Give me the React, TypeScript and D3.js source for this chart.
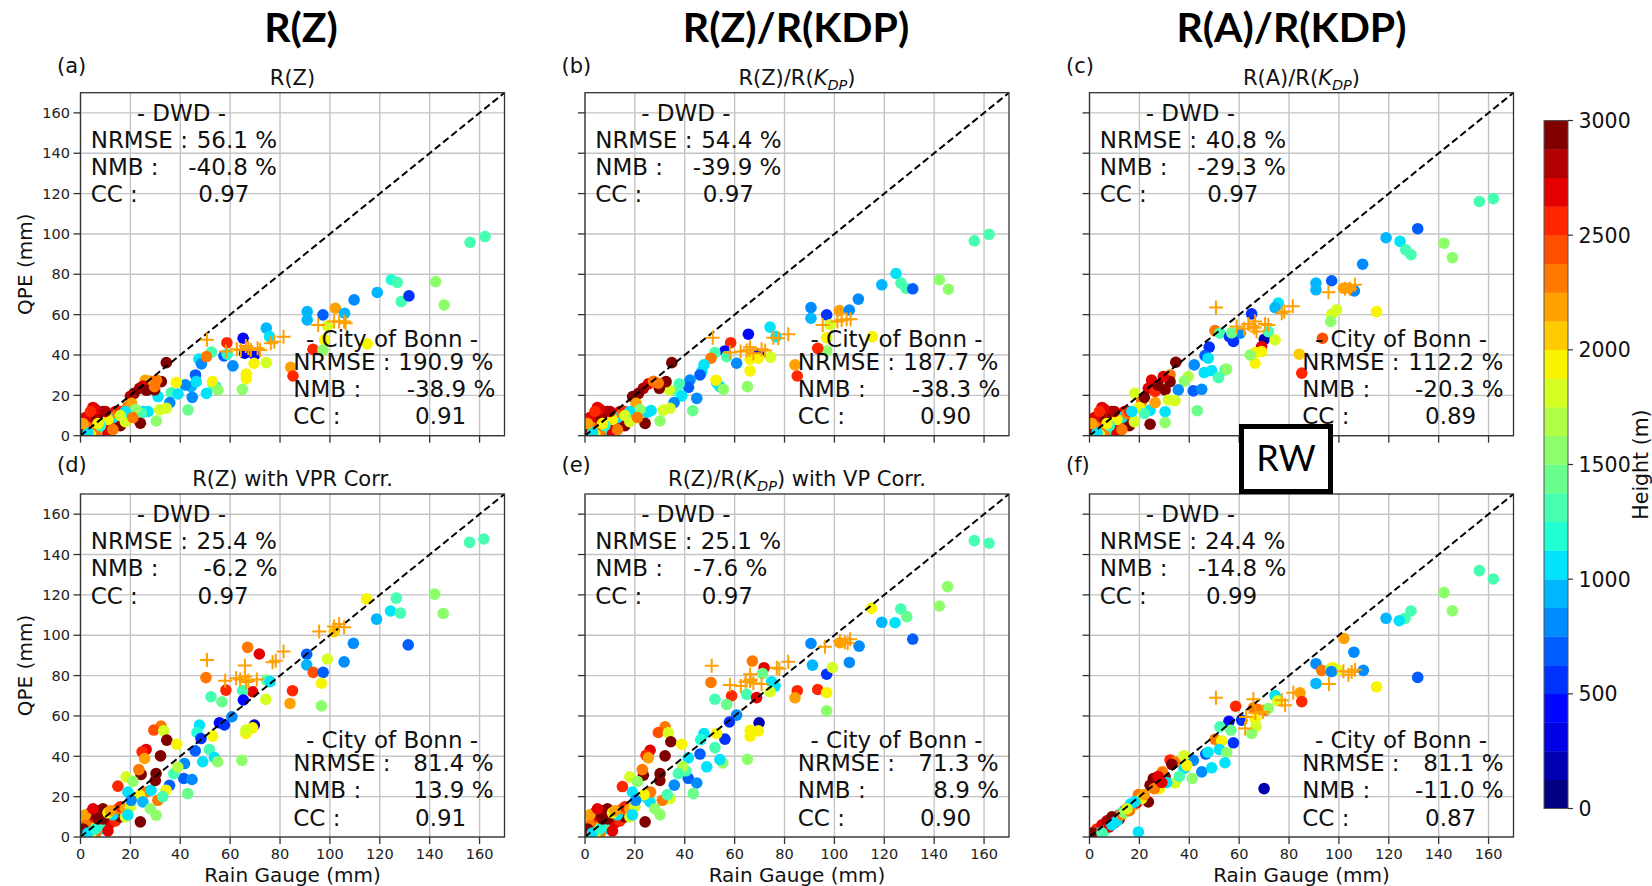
import React from 'react';
import * as d3 from 'd3';

// ---------------- data ----------------
const axisTicks = [0, 20, 40, 60, 80, 100, 120, 140, 160];
const cbTicks = [0, 500, 1000, 1500, 2000, 2500, 3000];
const titles = ['R(Z)', 'R(Z)/R(KDP)', 'R(A)/R(KDP)'];
const panelIds = ['(a)', '(b)', '(c)', '(d)', '(e)', '(f)'];
const subtitles = ['R(Z)', 'R(Z)/R({K})', 'R(A)/R({K})', 'R(Z) with VPR Corr.', 'R(Z)/R({K}) with VP Corr.', ''];
const statLabels = ['NRMSE :', 'NMB :', 'CC :'];
const dwdValues = [
  ['56.1 %', '-40.8 %', '0.97'], ['54.4 %', '-39.9 %', '0.97'], ['40.8 %', '-29.3 %', '0.97'],
  ['25.4 %', '-6.2 %', '0.97'], ['25.1 %', '-7.6 %', '0.97'], ['24.4 %', '-14.8 %', '0.99'],
];
const bonnValues = [
  ['190.9 %', '-38.9 %', '0.91'], ['187.7 %', '-38.3 %', '0.90'], ['112.2 %', '-20.3 %', '0.89'],
  ['81.4 %', '13.9 %', '0.91'], ['71.3 %', '8.9 %', '0.90'], ['81.1 %', '-11.0 %', '0.87'],
];

// [gauge mm, QPE mm, station height m]
const lowTop = [[1,1,2150],[2,2,1950],[3,3,2700],[4,5,2550],[6,6,2950],[8,8,2700],[10,9,2550],[12,10,2950],[14,12,2700],[5,3,1950],[7,4,2150],[9,5,2550],[11,6,2350],[13,7,1250],[15,8,2950],[3,7,2550],[5,9,2700],[7,11,2800],[9,12,2950],[6,13,2700],[4,10,2950],[2,5,2350],[8,2,1100],[10,3,1250],[12,4,2700],[14,5,2550],[16,5,2950],[6,1,2350],[4,0.5,1950],[11,1,2700],[17,8,2800],[13,9,1100],[15,11,2350],[18,7,1800],[1,3,2950],[3,1.5,1100],[9,7,2950],[11,8,1950],[16,12,2550],[5,14,2650],[8,5,1200],[2,9,2700],[4,12,2550],[7,6,1950],[10,12,2800],[13,3,2350],[1,6,2150]];
const lowBottom = [[1,1,2150],[2,3,1950],[3,4,2700],[4,6,2550],[6,8,2950],[8,10,2700],[10,11,2550],[12,12,2950],[14,13,2700],[5,5,1950],[7,6,2150],[9,8,2550],[11,9,2350],[13,10,1250],[15,12,2950],[3,9,2550],[5,11,2700],[7,13,2800],[9,14,2950],[4,12,2950],[2,6,2350],[8,4,1100],[10,5,1250],[12,7,2700],[14,8,2550],[16,10,2950],[6,2,2350],[4,1,1950],[11,3,2700],[17,12,2800],[13,11,1100],[15,14,2350],[18,10,1800],[1,4,2950],[3,2,1100],[9,9,2950],[11,12,1950],[16,15,2550],[6,4,1200],[12,13,2150],[18,14,2150],[20,15,1800],[19,11,1100],[2,11,2150],[5,14,2700],[7,9,2950]];
const lowF = [[1,1,2150],[2,2,1950],[3,3,2700],[4,4,2550],[6,6,2950],[8,7,2700],[10,9,2550],[12,11,2950],[14,13,2700],[5,4,1950],[7,6,2150],[9,8,2550],[11,10,2350],[13,12,1250],[15,14,2950],[3,4,2550],[5,6,2700],[7,8,2800],[9,10,2950],[4,2,1100],[6,3,1250],[8,5,2700],[10,7,2550],[12,9,2950],[2,1,2350],[11,8,1100],[13,11,2350],[16,15,2800],[17,16,1800],[1,2,2950],[18,16,2150],[14,12,1600],[19,17,2700],[5,2,1250],[9,6,1100],[16,13,2350]];

const pointsA = [[156.2,95.8,1250],[162.2,98.7,1250],[142.4,76.4,1600],[145.8,64.8,1600],[124.6,77.3,1150],[127,76,1250],[128.6,66.5,1350],[131.7,69.3,600],[119,71,950],[109.7,67.3,800],[90.9,61.5,900],[90.9,57.4,950],[97.2,59.9,650],[102.2,63.2,2150],[105.9,60.7,900],[99,54.4,1800],[97.9,47.5,1950],[115,45.5,1950],[93.2,42.8,2550],[97.2,42.5,1600],[84.3,33.9,2150],[85.2,29.6,2600],[74.5,53.3,950],[75.8,49.1,1100],[65.2,48.3,450],[58.7,46.1,2550],[65.8,40.9,250],[69.8,40.1,400],[69.6,35.9,1950],[74.5,36.2,1800],[66.5,30.6,1950],[66.5,28.4,1950],[64.9,23,1600],[57.5,39.5,700],[58.8,40.4,1150],[61.1,34.6,800],[52.5,41.4,1250],[47.5,38,1000],[48.5,35.6,800],[50.5,39.2,2350],[46.1,30.1,700],[44.4,24.3,950],[42,25.2,800],[44.8,19,800],[46.4,26.8,1100],[50.5,21,1100],[54.2,24.3,1100],[53.1,25.6,1250],[52.9,26.8,1950],[38.4,26.3,1950],[55.1,22.7,1600],[43.1,12.8,1400],[36.4,21.3,1250],[39.1,20.7,1100],[35.8,16.4,800],[34.4,13.6,1800],[31.7,12.8,1800],[30.4,7.3,1600],[31.1,19.4,1100],[27.1,12,1100],[25.1,12,1000],[24.4,11.1,1250],[34.4,36.2,2950],[32.4,26.8,2950],[29.7,22.7,2950],[30.5,27.5,2350],[28,27,2300],[26,27.5,2150],[25,24.6,2700],[23.7,23.5,2800],[26.5,22.5,2950],[21.5,21,2950],[20,19.5,2800],[29.7,24.3,2350],[24,6.2,2950],[19,14.5,2350],[20.5,16,2150],[22,13,1600],[18,12,1100],[16,10,1800],[21,9,2350]];
const crossA = [[50.7,47.5],[58.3,41.7],[62.7,42.8],[64.3,42.5],[66.3,44.5],[67.3,43.3],[68.3,42.5],[71,43.3],[72,42.5],[76.3,45.8],[77.7,46.6],[81.4,49.1],[95.3,54.9],[101.7,56.6],[103.7,56.6],[105.7,56.6],[106.3,55.7]];

const pointsB = [[156.1,96.6,1250],[162,99.8,1250],[142.1,77.3,1600],[145.7,72.6,1600],[124.7,80.4,1100],[119,74.8,950],[126.7,75.6,1250],[128.7,73.1,1350],[131.4,72.8,650],[109.6,67.7,800],[90.6,63.5,850],[90.6,58.2,950],[96.9,59.9,500],[102,62,2150],[106,62.3,800],[98.2,55,1800],[96.9,42,1600],[96.9,48.6,1950],[115.2,49.1,1950],[93.3,43.3,2550],[84.2,35.1,2150],[85.1,29.6,2600],[74.2,53.8,1000],[76.6,49.1,1100],[58.4,46.1,2550],[65.5,50.3,450],[56.1,42,450],[56.8,39.2,1350],[52.1,41.2,1250],[60.8,35.9,800],[50.5,38.4,2350],[69.5,40.5,300],[69.5,38.4,1950],[66.2,37.9,1950],[66.2,32.1,1950],[74.4,38.9,1800],[65.1,24.3,1600],[47.7,35.1,1000],[46.8,31.8,1100],[46.1,30.1,700],[52.8,26.3,1100],[54.1,24.3,1100],[52.5,27.5,1950],[55.5,23,1600],[42.1,27.6,800],[44.8,18.5,800],[41.5,24,700],[37.8,25.7,1250],[36.8,22.2,1250],[38.8,19.7,1100],[43.2,12.4,1400],[35.7,16.4,800],[33.8,22.7,1800],[34.1,13.6,1800],[31.4,12.7,1800],[30.1,7.3,1600],[34.8,36.2,2950],[32.5,26.8,2950],[29.8,23.5,2950],[29.4,26,2350],[25.4,25.7,2700],[23.4,23.5,2800],[19.1,19.4,2950],[25,11.5,1100],[26.5,12.5,1000],[24.1,6.1,2950],[27.5,27,2300],[21.5,21,2950],[20.5,16,2150],[22,13,1600],[18,12,1100],[16,10,1800],[21,9,2350]];
const crossB = [[51.2,48.6],[75.5,48.6],[77.5,48.3],[81.5,50.3],[58.1,41.2],[62.4,41.7],[64.8,42.2],[66.2,43.8],[67.5,40.9],[70.8,42.9],[72.2,42.2],[66,42.5],[95.3,54.9],[101.2,56.6],[102.9,57.4],[104.9,57.7],[106.5,57.7]];

const pointsC = [[156.3,116.1,1250],[161.9,117.5,1250],[131.6,102.6,650],[118.9,98.1,950],[124.5,96.3,1100],[126.8,92.1,1250],[128.9,89.7,1350],[142.1,95.4,1600],[145.5,88.3,1600],[109.5,85,800],[90.8,75.6,950],[90.8,72.3,900],[97.1,76.8,650],[106.2,71.8,800],[101.8,73.1,2150],[103.8,73.1,2150],[97.1,60.2,1800],[99.1,62.4,1800],[96.7,56.6,1600],[115.1,61.5,1950],[75.7,65.7,1050],[74.4,63.5,950],[93.4,48.3,2450],[84.1,40.4,2100],[85.1,31,2600],[65,60.4,500],[50.3,52.1,2350],[52.3,50.8,1250],[60.4,50.8,800],[56.1,49.1,500],[57.7,46.7,500],[57,51,1400],[70.1,47.8,200],[71.7,51.6,1350],[74.4,47.5,1800],[69,44.2,2650],[66.4,41.2,1950],[69,41.7,1950],[66.4,35.9,1950],[64.4,40,1600],[48,43.9,600],[46.3,39.7,700],[47.6,38.4,1000],[42,35.1,800],[41.6,22.2,700],[45,23,800],[46,31.3,1100],[49,32.3,1100],[51.7,28.8,1250],[54.3,32.6,1250],[55,33,1600],[43.2,12.4,1400],[39.6,29.3,1700],[38,27,1600],[35.6,22.7,800],[34.6,36.4,2950],[32.3,30.1,2250],[32.3,26.8,2950],[29.6,29.3,2650],[24.9,27.6,2700],[23.6,23.5,2700],[26.3,21.9,2550],[30.3,22.7,2950],[34.3,17.4,1800],[31.6,17.7,1800],[30.3,11.9,1100],[24.3,12.7,1100],[30.3,6.5,1600],[24.3,5.7,2950],[18.2,21,1750],[20.9,16.9,2350],[26.3,16.4,2150],[22,19,2950],[27.5,25,2950],[20,14,1950],[17,12,1100],[22,11,1250]];
const crossC = [[50.7,63.5],[77.1,60.7],[78.1,61.6],[81.5,64.1],[59,54.1],[63.7,55.4],[65.7,54.1],[66.4,56.6],[67,51.6],[70.4,55.4],[71.7,54.9],[66.2,53.5],[62,53],[95.8,71.1],[102.4,72.8],[104.4,72.8],[106.4,74.8]];

const pointsD = [[156,146,1250],[161.7,147.7,1250],[142,120.4,1600],[145.4,110.8,1600],[126.6,118.4,1250],[124.3,112,1050],[128.3,111,1350],[118.7,108,950],[131.4,95.2,650],[114.7,118,1950],[109.4,96,800],[105.7,86.8,800],[101.7,101.8,2100],[99,88.2,1800],[90.7,90.6,700],[90.7,85.3,950],[93.3,81.6,2450],[97.3,81.6,650],[96.6,76.2,1950],[96.6,65,1600],[85,72.5,2550],[84,66.2,2150],[67,94,2350],[71.7,90.7,2650],[50.3,79,2350],[58.3,72.8,2550],[69,72,2650],[65,72.5,1300],[74.6,77.8,1450],[76,77,1050],[52.3,69.5,1250],[56.7,67,1400],[65.3,67.9,450],[74.3,68.2,1800],[60.7,59.6,800],[55.7,56.6,450],[57.7,55.5,500],[69.7,55.5,200],[69,54.1,1950],[66.3,51.3,1950],[66.3,53,1800],[64.7,38,1600],[47.7,55.5,1050],[46.7,51.8,1200],[48.3,48.8,600],[53,50,1950],[46,42.7,650],[51.7,43.4,1250],[49,37.3,1100],[53.7,39.4,1100],[55,37.3,1600],[41.7,36.4,800],[41.4,29,650],[44.7,28.5,800],[43,21.5,1400],[32.3,55,2350],[29.4,53,2450],[33.4,52.6,1800],[34.6,48,2950],[38.6,46,1950],[26.3,43.4,2650],[24.7,42.2,2550],[25.7,38.9,2150],[32.1,40.2,2950],[30.3,31.5,2950],[24.3,31,2950],[23.4,33.4,2350],[18.3,29.8,1800],[21,27.6,1600],[15,25.2,2550],[24,7.5,2950],[30.3,10.8,1600],[26.3,22.3,2350],[23.7,20.7,1950],[19,22.3,1100],[20.3,18.2,800],[35.7,25.6,700],[37.4,31.4,1250],[39,34.7,1700],[34.3,23.2,1950],[31,18.2,2350],[28.3,23.2,1100],[25,17.4,950],[28,14,1600],[33,20,1250],[30,28,2950]];
const crossD = [[50.7,87.7],[81.4,91.9],[77,86.6],[78.3,87.3],[65.9,85],[58,77.5],[62.4,78.7],[64,78],[66,79.5],[67.3,77.5],[70.7,78],[66.3,76.8],[95.7,101.8],[101.7,104.3],[105.7,104],[103.7,105.6]];

const pointsE = [[156.1,146.9,1250],[162,145.6,1250],[145.4,124.1,1600],[142.1,114.5,1600],[126.6,113,1350],[129,109.2,1400],[124.3,106.2,1100],[119,106.4,950],[114.9,113.3,1950],[131.4,98.1,650],[109.9,94.6,800],[106,86.5,800],[102.2,96.3,2150],[90.6,95.9,800],[91.2,85.2,950],[96.9,80.7,600],[99.2,84,1800],[93.3,73.1,2500],[96.9,71.5,1950],[96.9,62.5,1600],[85.1,72.5,2550],[84.2,69,2150],[67.1,87.2,2350],[71.8,83.9,2650],[50.5,76.6,2350],[71.2,81,1450],[64.8,70.7,1300],[58.8,70,2550],[68.8,69.1,2650],[52.1,68.3,1250],[56.8,65.7,1400],[74.8,76.9,1050],[76.2,74.8,1050],[74.2,72,1800],[60.8,60.4,800],[57.9,57,500],[69.8,56.6,200],[69.5,52.6,1950],[66.2,52.9,1950],[66.2,50,1950],[56.1,48.5,500],[47.7,51.3,1050],[46.4,48.3,1200],[52.8,51.3,1950],[52.1,44.3,1250],[48.8,34.8,1100],[55.2,36.7,1600],[54.1,38.4,1100],[46.1,41.1,700],[41.4,39.2,1100],[41.4,29.1,650],[44.8,26.8,800],[65.1,38.5,1600],[43.4,21.5,1400],[32.1,54.6,2350],[29.4,51.8,2450],[33.4,51.6,1800],[34.4,47.2,2950],[38.8,46,1950],[26.1,43,2650],[24.5,40.5,2550],[25.4,39.2,2150],[32.1,40.2,2950],[40.4,32.8,1250],[39.2,34.8,1700],[30.1,31.4,2950],[23.4,30.6,2950],[23,33.4,2350],[18,29.8,1800],[21,27.5,1600],[35.8,25.7,800],[24.7,19.6,1100],[26.1,17.4,1100],[24.1,7.5,2950],[30.1,11.1,1600],[34.1,19,1800],[26.3,22.3,2350],[23.7,21,1950],[19,22.3,1100],[20.3,18.2,800],[37.4,31.4,1250],[31,18.2,2350],[28,14,1600],[33,21,1250],[15,25,2550],[30,28,2950]];
const crossE = [[50.8,84.9],[81.5,86.9],[76.9,83.9],[77.9,83.4],[66.2,80.7],[58.1,75.3],[62.5,74.8],[64.4,76.9],[66.2,77.3],[67.5,76.2],[70.8,75.8],[66.4,78.1],[96.2,94.3],[102.2,97.1],[104.2,96.5],[106.3,98],[105.3,96]];

const pointsF = [[156.3,132,1250],[161.9,127.9,1250],[142.1,121.1,1600],[145.5,112.1,1600],[128.9,112,1350],[126.5,108.4,1250],[124.2,107.2,1100],[118.9,108.4,950],[131.6,79.1,650],[102,98.4,2150],[106,91.6,800],[109.8,82.6,800],[90.8,85.9,800],[90.8,76.1,950],[93.1,82.6,2350],[96.8,83.5,1600],[97.5,84,1950],[99.5,82.9,1800],[97,82,800],[115.1,74.4,1950],[74.4,70.1,1000],[75.4,67.5,1800],[84.4,71.5,2150],[85.1,67.1,2600],[58.6,64.8,2550],[65.7,64,2350],[67.7,63.2,2350],[70.4,62.9,2300],[71.7,63.7,1600],[55.9,57.3,450],[61,57.9,600],[66.4,58.4,1950],[66.8,54.8,1800],[52.3,54.6,1250],[56.7,52.9,1400],[65,51.3,1500],[50.3,48.4,2350],[53,47.6,1950],[57.7,46.7,500],[52.1,43.4,1100],[55,41.9,1600],[54.3,36.8,1100],[46.6,41.1,700],[45,32.3,750],[49,34.3,1100],[47.5,42,1000],[41.6,38,800],[70,24,200],[19.6,2.5,1000],[41.2,29,1600],[32.3,38.2,2500],[34.3,37.1,2350],[33,36,2950],[37.9,40.3,1800],[37.9,34,1100],[39,35.5,1950],[30.3,29.8,2950],[25.6,29,2950],[24.3,25.7,2950],[29.2,32.3,2350],[27.5,30,2650],[23.6,17.4,2950],[19.6,21,2350],[20.9,19,1950],[34.3,26.8,1800],[36,30,1250],[31,27,1100],[28,24,1950],[16.6,16.5,1100],[18.2,17.4,1000],[15,14,1800],[22,21,2150],[26,24,2350],[29,27,2700]];
const crossF = [[50.7,69],[65.7,68.3],[81.7,71.5],[77.1,67.8],[78.4,65.3],[62.8,59.5],[62.4,53.8],[66.5,61.5],[69.5,62],[96,75.8],[101.8,82.1],[103.8,80.4],[105.1,81.8],[106.5,82.9]];

// ---------------- layout ----------------
const W = 1652, H = 886;
const PW = 424, PH = 343;
const lefts = [80.5, 585, 1089.5];
const tops = [92.7, 494];
const titleX = [301, 796, 1291.5];
const dwdValX = [[116.2,107.8,117.8],[116.2,107.8,117.8],[116.2,107.8,117.8],[116,123,117],[115.7,108.3,116.7],[115.5,108.2,116.5]];
const bonnValX = [[317.8,326.2,334.5],[318.3,326.7,335],[318.8,325.5,335.5],[332.8,332.8,334.5],[333.3,348.3,335],[333.8,325.5,335.5]];
const CB = { x: 1544, w: 24, top: 120.5, bottom: 808.5 };

const jr = d3.scaleLinear().domain([0, 0.35, 0.66, 0.89, 1]).range([0, 0, 1, 1, 0.5]).clamp(true);
const jg = d3.scaleLinear().domain([0, 0.125, 0.375, 0.64, 0.91, 1]).range([0, 0, 1, 1, 0, 0]).clamp(true);
const jb = d3.scaleLinear().domain([0, 0.11, 0.34, 0.65, 1]).range([0.5, 1, 1, 0, 0]).clamp(true);
const NB = 24;
function binColor(i: number) {
  const t = i / (NB - 1);
  return d3.rgb(jr(t) * 255, jg(t) * 255, jb(t) * 255).formatHex();
}
function heightColor(h: number) {
  const i = Math.max(0, Math.min(NB - 1, Math.floor(h / (3000 / NB))));
  return binColor(i);
}

const FONT = 'DejaVu Sans';
const CROSS = '#ff9f00';

function Subtitle({ s, x, y }: { s: string; x: number; y: number }) {
  if (!s) return null;
  const parts = s.split('{K}');
  const out: any[] = [];
  parts.forEach((p, i) => {
    if (i > 0) {
      out.push(<tspan key={'k' + i} fontStyle="italic">K</tspan>);
      out.push(<tspan key={'d' + i} fontStyle="italic" fontSize={14.5} dy={4.5}>DP</tspan>);
      out.push(<tspan key={'p' + i} dy={-4.5}>{p}</tspan>);
    } else out.push(<tspan key={'p' + i}>{p}</tspan>);
  });
  return (
    <text x={x} y={y} textAnchor="middle" fontSize={21} fontFamily={FONT} fill="#111" style={{ whiteSpace: 'pre' }}>
      {out}
    </text>
  );
}

function Panel({ idx, pts, low, crosses }: { idx: number; pts: number[][]; low: number[][]; crosses: number[][] }) {
  const col = idx % 3, row = Math.floor(idx / 3);
  const L = lefts[col], T = tops[row];
  const x = d3.scaleLinear().domain([0, 170]).range([0, PW]);
  const y = d3.scaleLinear().domain([0, 170]).range([PH, 0]);
  const clipId = 'clip' + idx;
  const all = [...low, ...pts];
  const line = d3.line<number[]>().x(d => x(d[0])).y(d => y(d[1]));
  return (
    <g transform={`translate(${L},${T})`}>
      <defs>
        <clipPath id={clipId}><rect x={0} y={0} width={PW} height={PH} /></clipPath>
      </defs>
      {axisTicks.map(t => (
        <g key={'g' + t}>
          <line x1={x(t)} x2={x(t)} y1={0} y2={PH} stroke="#c4c4c4" strokeWidth={1.4} />
          <line x1={0} x2={PW} y1={y(t)} y2={y(t)} stroke="#c4c4c4" strokeWidth={1.4} />
        </g>
      ))}
      <g clipPath={`url(#${clipId})`}>
        {all.map((d, i) => (
          <circle key={i} cx={x(d[0])} cy={y(d[1])} r={5.8} fill={heightColor(d[2])} />
        ))}
        <path d={line([[0, 0], [170, 170]]) || ''} stroke="#000" strokeWidth={2} strokeDasharray="7,3.6" fill="none" />
        {crosses.map((d, i) => (
          <path key={'c' + i} d={`M${x(d[0]) - 7},${y(d[1])}H${x(d[0]) + 7}M${x(d[0])},${y(d[1]) - 7}V${y(d[1]) + 7}`} stroke={CROSS} strokeWidth={2} />
        ))}
      </g>
      <rect x={0} y={0} width={PW} height={PH} fill="none" stroke="#333" strokeWidth={1.3} />
      {axisTicks.map(t => (
        <g key={'t' + t}>
          <line x1={x(t)} x2={x(t)} y1={PH} y2={PH + 7} stroke="#333" strokeWidth={1.3} />
          <line x1={-7} x2={0} y1={y(t)} y2={y(t)} stroke="#333" strokeWidth={1.3} />
          {col === 0 && (
            <text x={-10.5} y={y(t)} dy="0.36em" textAnchor="end" fontSize={14.5} fontFamily={FONT} fill="#222">{t}</text>
          )}
          {row === 1 && (
            <text x={x(t)} y={PH + 21.5} textAnchor="middle" fontSize={14.5} fontFamily={FONT} fill="#222">{t}</text>
          )}
        </g>
      ))}
      {col === 0 && (
        <text transform={`translate(${31.5 - L},${PH / 2}) rotate(-90)`} textAnchor="middle" fontSize={20} fontFamily={FONT} fill="#111">QPE (mm)</text>
      )}
      {row === 1 && (
        <text x={PW / 2} y={PH + 44.5} textAnchor="middle" fontSize={20} fontFamily={FONT} fill="#111">Rain Gauge (mm)</text>
      )}
      <text x={-23.5} y={row === 0 ? -20.2 : -21.8} fontSize={21} fontFamily={FONT} fill="#111">{panelIds[idx]}</text>
      <Subtitle s={subtitles[idx]} x={PW / 2} y={-7.6} />
      <g fontSize={23} fontFamily={FONT} fill="#111">
        <text x={56.2} y={28}>- DWD -</text>
        {statLabels.map((s, i) => (
          <g key={'dw' + i}>
            <text x={10.2} y={55 + i * 27.3}>{s}</text>
            <text x={dwdValX[idx][i]} y={55 + i * 27.3}>{dwdValues[idx][i]}</text>
          </g>
        ))}
        <text x={225.5} y={254}>- City of Bonn -</text>
        {statLabels.map((s, i) => (
          <g key={'bn' + i}>
            <text x={212.8} y={277.3 + i * 27.1}>{s}</text>
            <text x={bonnValX[idx][i]} y={277.3 + i * 27.1}>{bonnValues[idx][i]}</text>
          </g>
        ))}
      </g>
    </g>
  );
}

export default function App() {
  React.useEffect(() => {
    document.body.style.margin = '0';
    document.body.style.overflow = 'hidden';
  }, []);
  const cb = d3.scaleLinear().domain([0, 3000]).range([CB.bottom, CB.top]);
  const bands = d3.range(NB);
  const bandH = (CB.bottom - CB.top) / NB;
  const panelsPts = [pointsA, pointsB, pointsC, pointsD, pointsE, pointsF];
  const panelsLow = [lowTop, lowTop, lowTop, lowBottom, lowBottom, lowF];
  const panelsCross = [crossA, crossB, crossC, crossD, crossE, crossF];
  return (
    <svg width={W} height={H} style={{ position: 'absolute', left: 0, top: 0, background: '#fff' }}>
      <rect x={0} y={0} width={W} height={H} fill="#fff" />
      {titles.map((t, i) => (
        <text key={t} x={titleX[i]} y={42} textAnchor="middle" fontSize={41} fontWeight="bold" fontFamily="Lato" fill="#000">{t}</text>
      ))}
      {panelsPts.map((p, i) => (
        <Panel key={i} idx={i} pts={p} low={panelsLow[i]} crosses={panelsCross[i]} />
      ))}
      {bands.map(i => (
        <rect key={'b' + i} x={CB.x} y={CB.bottom - (i + 1) * bandH} width={CB.w} height={bandH + 0.3} fill={binColor(i)} />
      ))}
      <rect x={CB.x} y={CB.top} width={CB.w} height={CB.bottom - CB.top} fill="none" stroke="#555" strokeWidth={1} />
      {cbTicks.map(t => (
        <g key={'cb' + t}>
          <line x1={CB.x + CB.w} x2={CB.x + CB.w + 5} y1={cb(t)} y2={cb(t)} stroke="#333" strokeWidth={1.2} />
          <text x={CB.x + CB.w + 10.5} y={cb(t)} dy="0.36em" fontSize={20.5} fontFamily={FONT} fill="#111">{t}</text>
        </g>
      ))}
      <text transform={`translate(1647.5,${(CB.top + CB.bottom) / 2}) rotate(-90)`} textAnchor="middle" fontSize={20.5} fontFamily={FONT} fill="#111">Height (m)</text>
      <rect x={1241.5} y={426.5} width={89} height={65} fill="#fff" stroke="#000" strokeWidth={5} />
      <text x={1286} y={471} textAnchor="middle" fontSize={36} fontFamily="Lato" fill="#000">RW</text>
    </svg>
  );
}
